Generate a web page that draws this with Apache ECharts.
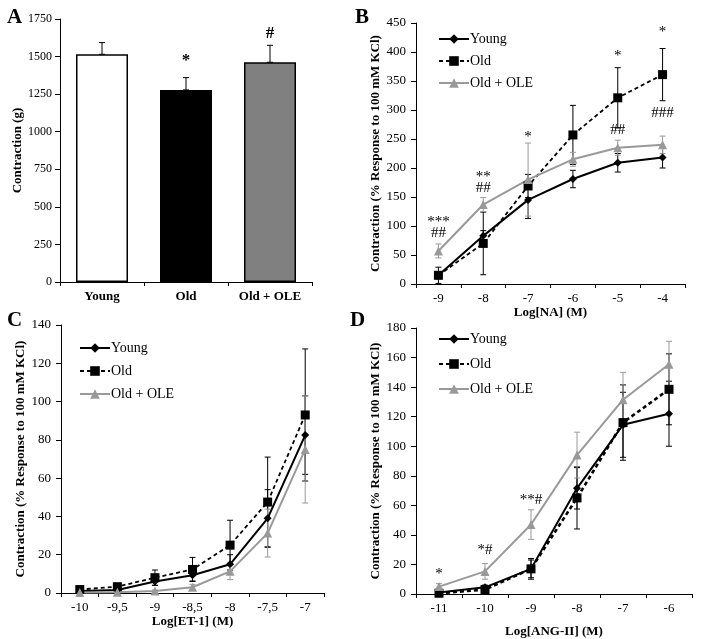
<!DOCTYPE html>
<html><head><meta charset="utf-8">
<script src="https://cdn.jsdelivr.net/npm/echarts@6/dist/echarts.min.js"></script>
<style>html,body{margin:0;padding:0;background:#fff}#c{width:709px;height:639px}</style>
</head><body><div id="c"></div>
<script>
// ---------- Panel A ----------
const BAR_CATS = ['Young', 'Old', 'Old + OLE'];
const BAR_VALUES = [1515, 1278, 1462];
const BAR_ERR = [78, 82, 113];
const BAR_SIG_TEXT = ['', '*', '#'];
const BAR_SIG_Y = [0, 1470, 1655];

// ---------- Panel B ----------
const NA_CATS = ['-9', '-8', '-7', '-6', '-5', '-4'];
const NA_YOUNG = [15, 83, 145, 181, 209, 218];
const NA_YOUNG_ERR = [6, 9, 32, 15, 16, 18];
const NA_OLD = [15, 70, 169, 257, 321, 361];
const NA_OLD_ERR = [14, 54, 20, 51, 52, 45];
const NA_OLE = [57, 137, 180, 215, 235, 240];
const NA_OLE_ERR = [12, 12, 63, 12, 13, 15];
const NA_SIG_CATS = [0, 0, 1, 1, 2, 4, 4, 5, 5];
const NA_SIG_Y = [107, 87, 185, 165, 254, 393, 265, 435, 294];
const NA_SIG_TEXT = ['***', '##', '**', '##', '*', '*', '##', '*', '###'];

// ---------- Panel C ----------
const ET_CATS = ['-10', '-9,5', '-9', '-8,5', '-8', '-7,5', '-7'];
const ET_YOUNG = [1, 1.6, 6, 9.3, 15, 39, 82.5];
const ET_YOUNG_ERR = [0.5, 0.8, 2, 3, 5, 15, 20.5];
const ET_OLD = [1.8, 3.3, 8, 12.3, 25, 47.5, 93];
const ET_OLD_ERR = [0.5, 0.8, 4, 6.3, 13, 23.5, 34.5];
const ET_OLE = [0.3, 0.4, 1, 3, 11.3, 31.3, 75];
const ET_OLE_ERR = [0.2, 0.3, 0.6, 1.5, 4.3, 12.5, 28];

// ---------- Panel D ----------
const ANG_CATS = ['-11', '-10', '-9', '-8', '-7', '-6'];
const ANG_YOUNG = [1, 4.5, 17, 71.5, 114.5, 122];
const ANG_YOUNG_ERR = [0.5, 1.5, 7, 14, 22, 22];
const ANG_OLD = [0.5, 3, 17, 65, 116, 138.5];
const ANG_OLD_ERR = [0.5, 1.5, 6, 21, 25.5, 24];
const ANG_OLE = [5, 15.3, 47, 94, 131.5, 155.5];
const ANG_OLE_ERR = [2, 5.3, 10, 15.5, 18.5, 15.5];
const ANG_SIG_CATS = [0, 1, 2];
const ANG_SIG_Y = [13.5, 30, 63.5];
const ANG_SIG_TEXT = ['*', '*#', '**#'];

const GROUP_NAMES = ['Young', 'Old', 'Old + OLE'];

const FONT = '"Liberation Serif","Times New Roman",serif';
const GREY = '#999999';
const chart = echarts.init(document.getElementById('c'), null, {renderer: 'canvas'});

function errData(vals, errs, upOnly) {
  return vals.map((v, i) => [i, upOnly ? v : v - errs[i], v + errs[i]]);
}
function errSeries(idx, data, color, cap) {
  return {
    type: 'custom', xAxisIndex: idx, yAxisIndex: idx, data: data, z: 1, silent: true,
    renderItem: function (params, api) {
      const top = api.coord([api.value(0), api.value(2)]);
      const bot = api.coord([api.value(0), api.value(1)]);
      const st = {stroke: color, lineWidth: 1};
      return {type: 'group', children: [
        {type: 'line', shape: {x1: top[0], y1: top[1], x2: bot[0], y2: bot[1]}, style: st},
        {type: 'line', shape: {x1: top[0] - cap, y1: top[1], x2: top[0] + cap, y2: top[1]}, style: st},
        {type: 'line', shape: {x1: bot[0] - cap, y1: bot[1], x2: bot[0] + cap, y2: bot[1]}, style: st}
      ]};
    }
  };
}
function sigSeries(idx, cats, ys, texts, font) {
  return {
    type: 'custom', xAxisIndex: idx, yAxisIndex: idx, z: 5, silent: true,
    data: cats.map((c, i) => [c, ys[i], texts[i]]),
    renderItem: function (params, api) {
      const p = api.coord([api.value(0), api.value(1)]);
      const t = texts[params.dataIndex];
      return {type: 'text', x: p[0], y: p[1], style: {text: t, font: font || ('15px ' + FONT), fill: '#000', align: 'center', verticalAlign: 'middle'}};
    }
  };
}
function lineSeries(idx, name, data, kind, dashW) {
  const base = {type: 'line', name: name, xAxisIndex: idx, yAxisIndex: idx, data: data, z: 3, animation: false};
  if (kind === 0) return Object.assign(base, {symbol: 'diamond', symbolSize: 8, lineStyle: {color: '#000', width: 2}, itemStyle: {color: '#000'}});
  if (kind === 1) return Object.assign(base, {symbol: 'rect', symbolSize: 9, lineStyle: {color: '#000', width: dashW || 1.8, type: [4, 3]}, itemStyle: {color: '#000'}});
  return Object.assign(base, {symbol: 'triangle', symbolSize: 9, lineStyle: {color: GREY, width: 2}, itemStyle: {color: GREY}});
}
function yAxis(idx, min, max, interval, name, gap, margin, fs) {
  return {type: 'value', gridIndex: idx, min: min, max: max, interval: interval,
    name: name, nameLocation: 'middle', nameGap: gap,
    nameTextStyle: {fontFamily: FONT, fontWeight: 'bold', fontSize: 13, color: '#000'},
    axisLine: {show: true, lineStyle: {color: '#000', width: 1}},
    axisTick: {show: true, length: 5, lineStyle: {color: '#000'}},
    axisLabel: {fontFamily: FONT, fontSize: fs || 13, color: '#000', margin: margin, formatter: v => String(v)},
    splitLine: {show: false}};
}
function xAxis(idx, cats, name, gap, bold) {
  return {type: 'category', gridIndex: idx, data: cats, boundaryGap: true,
    name: name, nameLocation: 'middle', nameGap: gap,
    nameTextStyle: {fontFamily: FONT, fontWeight: 'bold', fontSize: 13, color: '#000'},
    axisLine: {show: true, lineStyle: {color: '#000', width: 1}},
    axisTick: {show: true, length: 4, alignWithLabel: false, lineStyle: {color: '#000'}},
    axisLabel: {fontFamily: FONT, fontSize: 13, color: '#000', margin: 8, fontWeight: bold ? 'bold' : 'normal', interval: 0},
    splitLine: {show: false}};
}
function legend(left, top, suffix, gap) {
  return {left: left, top: top, orient: 'vertical', itemWidth: 30, itemHeight: 12, itemGap: gap,
    data: GROUP_NAMES.map(n => n + suffix),
    formatter: n => n.split('|')[0],
    textStyle: {fontFamily: FONT, fontSize: 14, color: '#000', padding: [0, 0, 0, -4]}};
}

const option = {
  animation: false,
  backgroundColor: '#fff',
  title: [
    {text: 'A', left: 2, top: 2},
    {text: 'B', left: 350, top: 2},
    {text: 'C', left: 2, top: 305},
    {text: 'D', left: 345, top: 305}
  ].map(t => Object.assign(t, {textStyle: {fontFamily: FONT, fontWeight: 'bold', fontSize: 21, color: '#000'}})),
  grid: [
    {left: 60, top: 19, width: 252, height: 263},
    {left: 416, top: 23, width: 269, height: 261},
    {left: 61, top: 325, width: 263, height: 268},
    {left: 416, top: 328, width: 276, height: 267}
  ],
  legend: [legend(433, 27, '|B', 8), legend(74, 336, '|C', 9), legend(433, 327, '|D', 11)],
  xAxis: [
    xAxis(0, BAR_CATS, '', 0, true),
    xAxis(1, NA_CATS, 'Log[NA] (M)', 21, false),
    xAxis(2, ET_CATS, 'Log[ET-1] (M)', 22, false),
    xAxis(3, ANG_CATS, 'Log[ANG-II] (M)', 31, false)
  ],
  yAxis: [
    yAxis(0, 0, 1750, 250, 'Contraction (g)', 36, 8, 12),
    yAxis(1, 0, 450, 50, 'Contraction (% Response to 100 mM KCl)', 32, 10),
    yAxis(2, 0, 140, 20, 'Contraction (% Response to 100 mM KCl)', 27, 10),
    yAxis(3, 0, 180, 20, 'Contraction (% Response to 100 mM KCl)', 31, 10)
  ],
  series: [
    {type: 'bar', xAxisIndex: 0, yAxisIndex: 0, barWidth: 52, z: 2,
      data: BAR_VALUES.map((v, i) => ({value: v, itemStyle: {color: ['#ffffff', '#000000', '#808080'][i], borderColor: '#000', borderWidth: 1.5}}))},
    errSeries(0, errData(BAR_VALUES, BAR_ERR, true), '#000', 3),
    sigSeries(0, [0, 1, 2], BAR_SIG_Y, BAR_SIG_TEXT, 'bold 17px ' + FONT),

    errSeries(1, errData(NA_YOUNG, NA_YOUNG_ERR), '#000', 3),
    errSeries(1, errData(NA_OLD, NA_OLD_ERR), '#000', 3),
    errSeries(1, errData(NA_OLE, NA_OLE_ERR), GREY, 3),
    lineSeries(1, 'Young|B', NA_YOUNG, 0),
    lineSeries(1, 'Old|B', NA_OLD, 1),
    lineSeries(1, 'Old + OLE|B', NA_OLE, 2),
    sigSeries(1, NA_SIG_CATS, NA_SIG_Y, NA_SIG_TEXT),

    errSeries(2, errData(ET_YOUNG, ET_YOUNG_ERR), '#000', 3),
    errSeries(2, errData(ET_OLD, ET_OLD_ERR), '#000', 3),
    errSeries(2, errData(ET_OLE, ET_OLE_ERR), GREY, 3),
    lineSeries(2, 'Young|C', ET_YOUNG, 0),
    lineSeries(2, 'Old|C', ET_OLD, 1),
    lineSeries(2, 'Old + OLE|C', ET_OLE, 2),

    errSeries(3, errData(ANG_YOUNG, ANG_YOUNG_ERR), '#000', 3),
    errSeries(3, errData(ANG_OLD, ANG_OLD_ERR), '#000', 3),
    errSeries(3, errData(ANG_OLE, ANG_OLE_ERR), GREY, 3),
    lineSeries(3, 'Young|D', ANG_YOUNG, 0),
    lineSeries(3, 'Old|D', ANG_OLD, 1, 2.6),
    lineSeries(3, 'Old + OLE|D', ANG_OLE, 2),
    sigSeries(3, ANG_SIG_CATS, ANG_SIG_Y, ANG_SIG_TEXT)
  ]
};
chart.setOption(option);
</script></body></html>
